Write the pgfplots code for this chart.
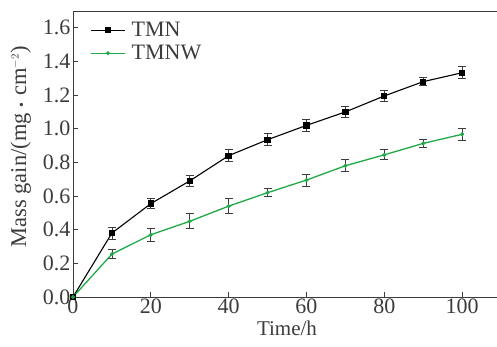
\documentclass[border=0pt]{standalone}
\usepackage{pgfplots}
\pgfplotsset{compat=1.18}
\usepackage{fontspec}
\setmainfont{Liberation Serif}
\definecolor{txt}{RGB}{60,60,60}
\definecolor{grn}{RGB}{30,170,70}
\begin{document}
\begin{tikzpicture}
\begin{axis}[
  at={(0,0)}, anchor=south west,
  scale only axis, width=428pt, height=286pt,
  xmin=0, xmax=110, ymin=0, ymax=1.7,
  xtick={0,20,40,60,80,100},
  ytick={0,0.2,...,1.6},
  yticklabel style={xshift=1pt, /pgf/number format/.cd,fixed,fixed zerofill,precision=1},
  /pgf/number format/assume math mode=true,
  tick align=inside, major tick length=5pt,
  xtick pos=bottom, ytick pos=left,
  axis line style={txt, line width=0.9pt},
  tick style={txt, line width=0.8pt},
  tick label style={font=\fontsize{22}{24}\selectfont, text=txt},
  xticklabel style={yshift=2pt},
  label style={font=\fontsize{21}{24}\selectfont, text=txt},
  xlabel={Time/h},
  ylabel={Mass gain/(mg\;{\fontsize{14}{14}\selectfont\textbullet}\;cm$^{\scriptscriptstyle -2}$)},
  xlabel style={yshift=-1pt},
  ylabel style={yshift=5pt, xshift=7pt, font=\fontsize{22.5}{24}\selectfont},
  legend style={draw=none, fill=none, at={(0.04,0.975)}, anchor=north west,
    font=\fontsize{22}{24}\selectfont, text=txt, row sep=3pt,
    inner xsep=0pt, /tikz/every odd column/.append style={column sep=4pt}},
  legend cell align=left,
  legend image code/.code={\draw[mark repeat=2, mark phase=2, #1] plot coordinates {(0pt,0pt) (17pt,0pt) (34pt,0pt)};},
]
\addplot[black, line width=1.1pt, mark=square*, mark size=2.6pt,
  error bars/.cd, y dir=both, y explicit,
  error bar style={txt, line width=0.8pt},
  error mark options={rotate=90, mark size=4pt, txt, line width=0.8pt}]
  table[x=x, y=y, y error=e] {
x y e
0 0 0
10 0.38 0.035
20 0.555 0.03
30 0.69 0.035
40 0.84 0.035
50 0.935 0.035
60 1.02 0.035
70 1.10 0.03
80 1.195 0.035
90 1.28 0.025
100 1.333 0.035
};
\addlegendentry{TMN}
\addplot[grn, line width=1.3pt, mark=*, mark size=1.3pt,
  error bars/.cd, y dir=both, y explicit,
  error bar style={txt, line width=0.8pt},
  error mark options={rotate=90, mark size=4pt, txt, line width=0.8pt}]
  table[x=x, y=y, y error=e] {
x y e
0 0 0
10 0.255 0.025
20 0.37 0.04
30 0.45 0.045
40 0.54 0.045
50 0.62 0.025
60 0.695 0.035
70 0.78 0.035
80 0.845 0.03
90 0.913 0.025
100 0.967 0.035
};
\addlegendentry{TMNW}
\end{axis}
\pgfresetboundingbox
\path (-73pt,-50pt) rectangle (424pt,297pt);
\end{tikzpicture}
\end{document}
